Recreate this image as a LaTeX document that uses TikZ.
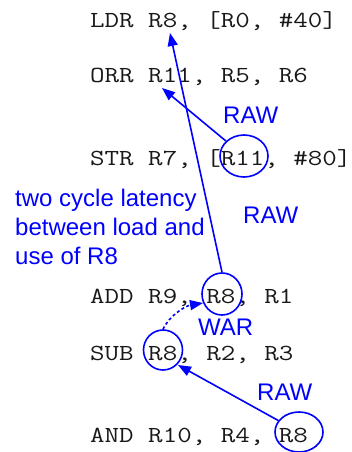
\documentclass[tikz,border=0pt]{standalone}
\usepackage{graphicx}
\usepackage{fontspec}
\setmainfont{Liberation Sans}
\usetikzlibrary{arrows.meta,shapes.geometric}
\definecolor{pblue}{RGB}{0,0,255}
\newcommand{\codetxt}[1]{\scalebox{1.225}[1]{#1}}
\begin{document}
\begin{tikzpicture}[x=1pt,y=-1pt,
  code/.style={anchor=base west,inner sep=0pt,font=\fontsize{23}{29}\selectfont\ttfamily,text=black!90},
  lbl/.style={anchor=base west,inner sep=0pt,font=\fontsize{24}{29}\selectfont,text=pblue},
  ring/.style={draw=pblue,line width=1.6pt,ellipse,inner sep=0pt},
  dep/.style={draw=pblue,line width=1.6pt,-{Triangle[length=13pt,width=10pt]}}]
\useasboundingbox (0,0) rectangle (352,452);
\node[code] (ldr) at (90,28) {\codetxt{LDR R8, [R0, \#40]}};
\node[code] (orr) at (90,82) {\codetxt{ORR R11, R5, R6}};
\node[code] (str) at (90,165) {\codetxt{STR R7, [R11, \#80]}};
\node[code] (add) at (90,303) {\codetxt{ADD R9, R8, R1}};
\node[code] (sub) at (90,360) {\codetxt{SUB R8, R2, R3}};
\node[code] (and) at (90,442) {\codetxt{AND R10, R4, R8}};
\node[ring,minimum width=48pt,minimum height=42pt] (e1) at (244,156) {};
\node[ring,minimum width=40pt,minimum height=42pt] (e2) at (222,294) {};
\node[ring,minimum width=39pt,minimum height=40pt] (e3) at (163,350) {};
\node[ring,minimum width=48pt,minimum height=40pt] (e4) at (299,432) {};
\coordinate (t1) at (170,33);
\coordinate (t2) at (162,88);
\coordinate (t3) at (178,365);
\coordinate (t4) at (203,303);
\draw[dep] (e2.north) -- (t1);
\draw[dep] (e1) -- (t2);
\draw[dep] (e4) -- (t3);
\draw[dep,dash pattern=on 3pt off 2.5pt] (e3.north) .. controls (169,316) and (185,306) .. (t4);
\node[lbl] (raw1) at (223,123) {RAW};
\node[lbl] (raw2) at (243,223) {RAW};
\node[lbl] (war) at (198,335) {WAR};
\node[lbl] (raw3) at (257,400) {RAW};
\node[lbl,align=left,anchor=north west] (lat) at (15,189) {two cycle latency\\between load and\\use of R8};
\end{tikzpicture}
\end{document}
